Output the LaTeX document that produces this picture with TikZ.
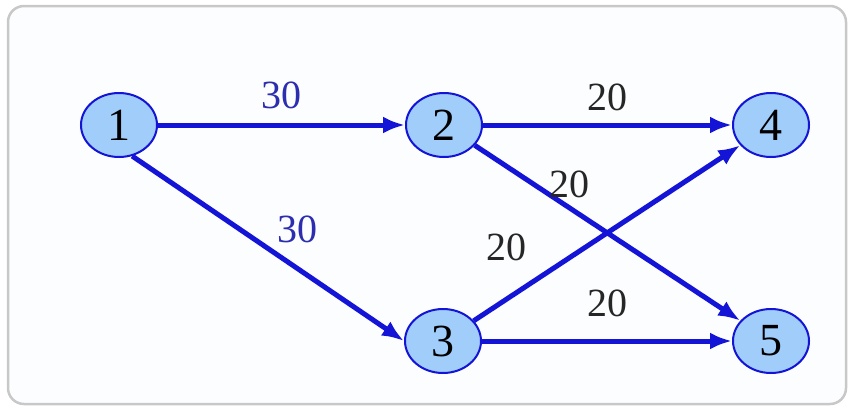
\documentclass[tikz,border=0pt]{standalone}
\usepackage{fontspec}
\setmainfont{Liberation Serif}
\usepackage{tikz}
\usetikzlibrary{arrows.meta,positioning,shapes}
\definecolor{edgeblue}{RGB}{20,20,215}
\definecolor{nodefill}{RGB}{160,205,250}
\definecolor{lblblue}{RGB}{45,45,175}
\definecolor{framegray}{RGB}{200,200,200}

\begin{document}
\begin{tikzpicture}[x=1pt, y=-1pt,
      state/.style={ellipse, draw=edgeblue, line width=2pt, fill=nodefill, minimum width=76pt, minimum height=64pt, inner sep=0pt, font=\fontsize{46}{48}\selectfont},
      flow/.style={-{Latex[length=22pt,width=17pt]}, edgeblue, line width=5pt},
      cap30/.style={text=lblblue, font=\fontsize{40}{42}\selectfont, inner sep=0pt},
      cap20/.style={text=black!85, font=\fontsize{40}{42}\selectfont, inner sep=0pt}]
    \useasboundingbox (0,0) rectangle (850,410);
    \draw[framegray, line width=2.5pt, fill={rgb,255:red,251;green,253;blue,255}, rounded corners=16pt] (8,6) rectangle (846,404);
    \node[state] (n1) at (119,125) {1};
    \node[state] (n2) at (444,125) {2};
    \node[state] (n3) at (443,341) {3};
    \node[state] (n4) at (771,125) {4};
    \node[state] (n5) at (771,341) {5};
    \draw[flow] (n1) -- node[cap30, pos=0.5, above=14pt] (c12) {30} (n2);
    \draw[flow] (n1.-67) -- node[cap30, pos=0.6, above right=22pt and -20pt] (c13) {30} (n3.west);
    \draw[flow] (n2) -- node[cap20, pos=0.5, above=12pt] (c24) {20} (n4);
    \draw[flow] (n2) -- node[cap20, pos=0.4, above right=15pt and -34pt] (c25) {20} (n5);
    \draw[flow] (n3) -- node[cap20, pos=0.22, above left=19pt and 3pt] (c34) {20} (n4);
    \draw[flow] (n3) -- node[cap20, pos=0.5, above=22pt] (c35) {20} (n5);
  \end{tikzpicture}
\end{document}
